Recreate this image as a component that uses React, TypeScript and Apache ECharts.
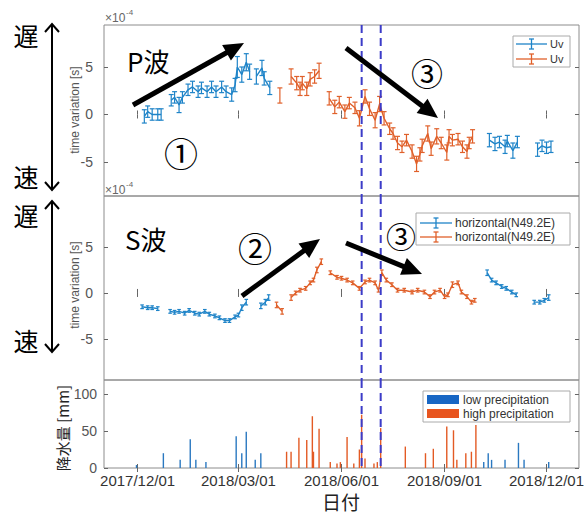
import React, { useEffect, useRef } from "react";
import * as echarts from "echarts";

type Pt = [string, number, number];
type Bar = [string, number];

// ---------------- data ----------------
const X_MIN = "2017-11-01";
const X_MAX = "2018-12-30";
const X_TICKS = ["2017-12-01", "2018-03-01", "2018-06-01", "2018-09-01", "2018-12-01"];
const TV_TICKS = [-5, 0, 5];
const PR_TICKS = [0, 50, 100];
const EVENT_DATES = ["2018-06-19", "2018-07-06"];

// P wave, low-precipitation period (blue): [date, value(x1e-4 s), error]
const P_BLUE: Pt[][] = [
  [["2017-12-07", -0.2, 0.7], ["2017-12-10", 0.3, 0.6], ["2017-12-14", 0.0, 0.6], ["2017-12-19", 0.0, 0.6], ["2017-12-22", 0.0, 0.6]],
  [["2017-12-31", 1.5, 0.6], ["2018-01-03", 1.8, 0.6], ["2018-01-07", 1.0, 0.8], ["2018-01-10", 1.8, 0.6], ["2018-01-15", 2.6, 0.6],
   ["2018-01-19", 2.9, 0.6], ["2018-01-24", 2.4, 0.6], ["2018-01-27", 2.8, 0.6], ["2018-02-01", 2.4, 0.6], ["2018-02-05", 2.9, 0.6],
   ["2018-02-09", 2.4, 0.6], ["2018-02-14", 2.9, 0.6], ["2018-02-18", 2.4, 0.6], ["2018-02-23", 2.1, 0.7], ["2018-02-26", 3.1, 0.7],
   ["2018-02-28", 5.0, 1.1], ["2018-03-04", 4.2, 0.8], ["2018-03-08", 5.5, 0.9], ["2018-03-11", 4.5, 0.8]],
  [["2018-03-17", 4.0, 0.8], ["2018-03-22", 4.9, 0.8], ["2018-03-24", 3.8, 0.7], ["2018-03-29", 2.8, 0.7]],
  [["2018-10-11", -2.7, 0.7], ["2018-10-16", -3.1, 0.7], ["2018-10-20", -2.9, 0.6], ["2018-10-25", -3.4, 0.7], ["2018-10-27", -2.8, 0.6],
   ["2018-11-01", -3.8, 0.8], ["2018-11-05", -2.9, 0.6]],
  [["2018-11-23", -3.7, 0.7], ["2018-11-27", -3.3, 0.6], ["2018-12-01", -3.5, 0.6], ["2018-12-05", -3.4, 0.6]],
];

// P wave, high-precipitation period (orange)
const P_ORANGE: Pt[][] = [
  [["2018-04-07", 2.0, 0.8]],
  [["2018-04-17", 4.0, 0.8], ["2018-04-22", 3.3, 0.7], ["2018-04-25", 2.7, 0.7], ["2018-04-27", 3.3, 0.7], ["2018-05-01", 2.7, 0.7],
   ["2018-05-04", 3.7, 0.7], ["2018-05-08", 4.0, 0.7], ["2018-05-12", 4.6, 0.8]],
  [["2018-05-21", 1.7, 0.7], ["2018-05-26", 0.8, 0.7], ["2018-05-30", 1.3, 0.6], ["2018-06-04", 0.3, 0.7], ["2018-06-08", 1.2, 0.6],
   ["2018-06-13", 0.7, 0.6], ["2018-06-17", -0.4, 0.8], ["2018-06-22", 1.9, 0.7], ["2018-06-26", 0.6, 0.7], ["2018-07-01", -0.6, 0.8],
   ["2018-07-05", 1.1, 0.8], ["2018-07-09", -0.4, 0.7], ["2018-07-14", -1.5, 0.6], ["2018-07-17", -2.0, 0.6], ["2018-07-21", -3.0, 0.7],
   ["2018-07-25", -3.4, 0.6], ["2018-07-29", -2.7, 0.6], ["2018-08-03", -3.9, 0.7], ["2018-08-07", -5.2, 0.8], ["2018-08-10", -4.2, 0.7],
   ["2018-08-12", -3.3, 0.7], ["2018-08-17", -2.0, 0.8], ["2018-08-20", -3.6, 0.7], ["2018-08-25", -2.3, 0.8], ["2018-08-29", -3.0, 0.6],
   ["2018-09-03", -4.0, 0.8], ["2018-09-05", -2.3, 0.7], ["2018-09-08", -2.7, 0.6], ["2018-09-13", -2.6, 0.6], ["2018-09-17", -3.4, 0.6],
   ["2018-09-21", -3.9, 0.7], ["2018-09-23", -3.0, 0.6], ["2018-09-26", -2.3, 0.7]],
];

// S wave, horizontal (N49.2E), low-precipitation period (blue)
const S_BLUE: Pt[][] = [
  [["2017-12-05", -1.5, 0.2], ["2017-12-10", -1.6, 0.2], ["2017-12-14", -1.6, 0.2], ["2017-12-19", -1.7, 0.2]],
  [["2017-12-30", -2.0, 0.2], ["2018-01-03", -2.1, 0.2], ["2018-01-07", -2.0, 0.2], ["2018-01-12", -2.2, 0.2], ["2018-01-16", -1.9, 0.2],
   ["2018-01-21", -2.2, 0.2], ["2018-01-25", -2.3, 0.2], ["2018-01-30", -2.0, 0.2], ["2018-02-03", -2.3, 0.2], ["2018-02-08", -2.5, 0.2],
   ["2018-02-12", -2.7, 0.2], ["2018-02-17", -3.0, 0.2], ["2018-02-21", -3.0, 0.2], ["2018-02-26", -2.6, 0.2], ["2018-03-01", -2.4, 0.2],
   ["2018-03-04", -1.6, 0.3], ["2018-03-08", -1.0, 0.3]],
  [["2018-03-21", -1.4, 0.3], ["2018-03-25", -1.0, 0.3], ["2018-03-28", -0.5, 0.3]],
  [["2018-10-09", 2.2, 0.3], ["2018-10-13", 1.4, 0.2], ["2018-10-17", 1.1, 0.2], ["2018-10-22", 0.7, 0.2], ["2018-10-26", 0.5, 0.2],
   ["2018-10-31", 0.1, 0.2], ["2018-11-04", -0.2, 0.2]],
  [["2018-11-20", -1.0, 0.2], ["2018-11-25", -1.0, 0.2], ["2018-11-29", -0.8, 0.2], ["2018-12-03", -0.5, 0.3]],
];

// S wave, high-precipitation period (orange)
const S_ORANGE: Pt[][] = [
  [["2018-04-04", -1.3, 0.3], ["2018-04-09", -2.0, 0.3]],
  [["2018-04-17", -0.5, 0.3], ["2018-04-21", 0.0, 0.2], ["2018-04-25", 0.3, 0.2], ["2018-04-30", 0.5, 0.2], ["2018-05-04", 1.1, 0.2],
   ["2018-05-07", 1.4, 0.2], ["2018-05-10", 2.5, 0.3], ["2018-05-14", 3.4, 0.3]],
  [["2018-05-22", 2.2, 0.2], ["2018-05-28", 1.7, 0.2], ["2018-06-01", 1.6, 0.2], ["2018-06-06", 1.4, 0.2], ["2018-06-11", 1.1, 0.2],
   ["2018-06-17", 0.5, 0.2], ["2018-06-22", 1.2, 0.2], ["2018-06-26", 1.4, 0.2], ["2018-07-01", 1.1, 0.2], ["2018-07-04", 0.3, 0.2],
   ["2018-07-07", 2.2, 0.3], ["2018-07-11", 1.4, 0.2], ["2018-07-16", 0.9, 0.2], ["2018-07-21", 0.3, 0.2], ["2018-07-27", 0.3, 0.2],
   ["2018-08-03", 0.1, 0.2], ["2018-08-08", 0.3, 0.2], ["2018-08-14", 0.1, 0.2], ["2018-08-19", -0.4, 0.2], ["2018-08-23", 0.1, 0.2],
   ["2018-08-28", 0.3, 0.2], ["2018-09-01", -0.4, 0.2], ["2018-09-04", -0.2, 0.2], ["2018-09-08", 0.9, 0.3], ["2018-09-13", 1.1, 0.2],
   ["2018-09-16", 0.1, 0.2], ["2018-09-21", -0.4, 0.2], ["2018-09-25", -1.0, 0.2], ["2018-09-28", -0.8, 0.2]],
];

// Daily precipitation [mm]
const LOW_PRECIP: Bar[] = [
  ["2017-11-30", 4], ["2017-12-24", 20], ["2018-01-08", 11], ["2018-01-17", 39], ["2018-01-22", 11], ["2018-01-31", 8],
  ["2018-02-27", 43], ["2018-03-04", 20], ["2018-03-08", 49], ["2018-03-16", 11], ["2018-03-21", 20],
  ["2018-10-06", 8], ["2018-10-10", 20], ["2018-10-13", 11], ["2018-10-25", 11], ["2018-11-06", 34], ["2018-11-11", 11], ["2018-12-03", 8],
];
const HIGH_PRECIP: Bar[] = [
  ["2018-04-13", 22], ["2018-04-17", 22], ["2018-04-24", 41], ["2018-05-01", 38], ["2018-05-06", 70], ["2018-05-07", 22],
  ["2018-05-12", 53], ["2018-05-22", 8], ["2018-05-28", 6], ["2018-05-31", 8], ["2018-06-06", 42], ["2018-06-12", 6],
  ["2018-06-17", 25], ["2018-06-19", 72], ["2018-06-22", 13], ["2018-06-30", 6], ["2018-07-03", 8], ["2018-07-06", 54],
  ["2018-07-28", 29], ["2018-08-15", 20], ["2018-08-22", 26], ["2018-09-03", 56], ["2018-09-09", 51], ["2018-09-12", 11],
  ["2018-09-20", 20], ["2018-09-25", 22], ["2018-09-29", 58],
];

// ---------------- styling ----------------
const SANS = '"Liberation Sans", Arial, sans-serif';
const CJK = '"Noto Sans CJK JP", "Noto Sans CJK SC", sans-serif';
const BLUE = "#1f84c8";
const ORANGE = "#e0602a";
const BAR_BLUE = "#2a78c0";
const BAR_ORANGE = "#e35a24";
const EVENT_COLOR = "#3c3cc8";

const parse = (s: string) => Date.parse(s + "T00:00:00Z");
const pad = (n: number) => (n < 10 ? "0" + n : "" + n);
const fmtDate = (v: number) => {
  const d = new Date(v);
  return `${d.getUTCFullYear()}/${pad(d.getUTCMonth() + 1)}/${pad(d.getUTCDate())}`;
};

const GRIDS = [
  { left: 104, top: 25, width: 475, height: 171 },
  { left: 104, top: 196, width: 475, height: 184 },
  { left: 104, top: 380, width: 475, height: 88 },
];
const Y_RANGES = [
  { min: -8.58, max: 9.42, ticks: TV_TICKS },
  { min: -9.46, max: 10.54, ticks: TV_TICKS },
  { min: 0, max: 119, ticks: PR_TICKS },
];

function thickArrow(x1: number, y1: number, x2: number, y2: number) {
  const dx = x2 - x1, dy = y2 - y1, L = Math.hypot(dx, dy);
  const ux = dx / L, uy = dy / L;
  const hl = 20, hw = 9;
  const bx = x2 - ux * hl, by = y2 - uy * hl;
  return [
    { type: "line", z: 50, shape: { x1, y1, x2: bx + ux * 3, y2: by + uy * 3 }, style: { stroke: "#000", lineWidth: 5 } },
    { type: "polygon", z: 50, shape: { points: [[x2, y2], [bx - uy * hw, by + ux * hw], [bx + uy * hw, by - ux * hw]] }, style: { fill: "#000" } },
  ];
}

function doubleArrow(x: number, y1: number, y2: number) {
  const s = { stroke: "#000", lineWidth: 2, fill: null as any };
  return [
    { type: "line", shape: { x1: x, y1: y1 + 1, x2: x, y2: y2 - 1 }, style: s },
    { type: "polyline", shape: { points: [[x - 7, y1 + 8], [x, y1], [x + 7, y1 + 8]] }, style: s },
    { type: "polyline", shape: { points: [[x - 7, y2 - 8], [x, y2], [x + 7, y2 - 8]] }, style: s },
  ];
}

function ebIcon(x1: number, x2: number, y: number, color: string) {
  const xm = (x1 + x2) / 2;
  const s = { stroke: color, lineWidth: 1.3 };
  return [
    { type: "line", shape: { x1, y1: y, x2, y2: y }, style: s },
    { type: "line", shape: { x1: xm, y1: y - 5, x2: xm, y2: y + 5 }, style: s },
    { type: "line", shape: { x1: xm - 2.5, y1: y - 5, x2: xm + 2.5, y2: y - 5 }, style: s },
    { type: "line", shape: { x1: xm - 2.5, y1: y + 5, x2: xm + 2.5, y2: y + 5 }, style: s },
  ];
}

function txt(x: number, y: number, text: string, fontSize: number, opts: any = {}) {
  return {
    type: "text",
    x,
    y,
    z: 60,
    rotation: opts.rotation || 0,
    style: {
      text,
      fontSize,
      fontFamily: opts.font || SANS,
      fill: opts.color || "#000",
      fontWeight: opts.weight || "normal",
      textAlign: opts.align || "center",
      textVerticalAlign: "middle",
    },
  };
}

function buildOption() {
  const xMin = parse(X_MIN), xMax = parse(X_MAX);
  const xt = X_TICKS.map(parse);

  const xAxis: any[] = [];
  const yAxis: any[] = [];
  GRIDS.forEach((_, gi) => {
    ["bottom", "top"].forEach((pos) => {
      xAxis.push({
        type: "value",
        gridIndex: gi,
        position: pos,
        min: xMin,
        max: xMax,
        axisLine: { show: false },
        splitLine: { show: false },
        axisTick: { show: true, inside: true, length: 4, customValues: xt, lineStyle: { color: "#666" } },
        axisLabel: {
          show: gi === 2 && pos === "bottom",
          customValues: xt,
          formatter: (v: number) => fmtDate(v),
          color: "#333",
          fontSize: 15,
          fontFamily: SANS,
          margin: 5,
        },
      });
    });
    const yr = Y_RANGES[gi];
    ["left", "right"].forEach((pos) => {
      yAxis.push({
        type: "value",
        gridIndex: gi,
        position: pos,
        min: yr.min,
        max: yr.max,
        axisLine: { show: false },
        splitLine: { show: false },
        axisTick: { show: true, inside: true, length: 4, customValues: yr.ticks, lineStyle: { color: "#666" } },
        axisLabel: {
          show: pos === "left",
          customValues: yr.ticks,
          color: "#555",
          fontSize: 14,
          fontFamily: SANS,
          margin: gi === 2 ? 7 : 11,
        },
      });
    });
  });

  const series: any[] = [];
  const addSegments = (segs: Pt[][], gi: number, color: string, lw: number, cap: number) => {
    segs.forEach((seg) => {
      series.push({
        type: "line",
        xAxisIndex: gi * 2,
        yAxisIndex: gi * 2,
        data: seg.map((p) => [parse(p[0]), p[1]]),
        symbol: "none",
        lineStyle: { color, width: lw },
        silent: true,
        z: 3,
      });
      series.push({
        type: "custom",
        xAxisIndex: gi * 2,
        yAxisIndex: gi * 2,
        data: seg.map((p) => [parse(p[0]), p[1], p[2]]),
        encode: { x: 0, y: 1 },
        silent: true,
        z: 4,
        renderItem: (params: any, api: any) => {
          const x = api.value(0), v = api.value(1), e = api.value(2);
          const a = api.coord([x, v + e]);
          const b = api.coord([x, v - e]);
          const st = { stroke: color, lineWidth: 1.2 };
          return {
            type: "group",
            children: [
              { type: "line", shape: { x1: a[0], y1: a[1], x2: b[0], y2: b[1] }, style: st },
              { type: "line", shape: { x1: a[0] - cap, y1: a[1], x2: a[0] + cap, y2: a[1] }, style: st },
              { type: "line", shape: { x1: b[0] - cap, y1: b[1], x2: b[0] + cap, y2: b[1] }, style: st },
            ],
          };
        },
      });
    });
  };
  addSegments(P_BLUE, 0, BLUE, 1.4, 2.5);
  addSegments(P_ORANGE, 0, ORANGE, 1.4, 2.5);
  addSegments(S_BLUE, 1, BLUE, 1.4, 1.8);
  addSegments(S_ORANGE, 1, ORANGE, 1.4, 1.8);

  series.push({
    type: "bar",
    name: "low precipitation",
    xAxisIndex: 4,
    yAxisIndex: 4,
    data: LOW_PRECIP.map((d) => [parse(d[0]), d[1]]),
    barWidth: 1.4,
    barGap: "-100%",
    itemStyle: { color: BAR_BLUE },
    silent: true,
  });
  series.push({
    type: "bar",
    name: "high precipitation",
    xAxisIndex: 4,
    yAxisIndex: 4,
    data: HIGH_PRECIP.map((d) => [parse(d[0]), d[1]]),
    barWidth: 1.4,
    barGap: "-100%",
    itemStyle: { color: BAR_ORANGE },
    silent: true,
  });

  GRIDS.forEach((_, gi) => {
    series.push({
      type: "custom",
      xAxisIndex: gi * 2,
      yAxisIndex: gi * 2,
      data: EVENT_DATES.map((d) => [parse(d), 0]),
      encode: { x: 0, y: 1 },
      silent: true,
      z: 20,
      renderItem: (params: any, api: any) => {
        const x = api.coord([api.value(0), 0])[0];
        const cs = params.coordSys;
        return {
          type: "line",
          shape: { x1: x, y1: cs.y, x2: x, y2: cs.y + cs.height },
          style: { stroke: EVENT_COLOR, lineWidth: 2, lineDash: [8, 5] },
        };
      },
    });
  });

  const graphic: any[] = [
    // left-side slow/fast annotations
    txt(26, 35, "遅", 25, { font: CJK }),
    txt(26, 176, "速", 25, { font: CJK }),
    ...doubleArrow(52, 24, 190),
    txt(26, 215, "遅", 25, { font: CJK }),
    txt(26, 340, "速", 25, { font: CJK }),
    ...doubleArrow(52, 201, 352),
    // y-axis titles
    txt(75, 110, "time variation [s]", 12, { rotation: Math.PI / 2, color: "#555" }),
    txt(75, 285, "time variation [s]", 12, { rotation: Math.PI / 2, color: "#555" }),
    txt(62, 428, "降水量 [mm]", 15, { rotation: Math.PI / 2, color: "#222", font: CJK }),
    txt(341, 501, "日付", 19, { font: CJK, color: "#222" }),
    // exponent labels
    txt(105, 18, "×10", 12, { align: "left", color: "#666" }),
    txt(126, 12, "-4", 8, { align: "left", color: "#666" }),
    txt(105, 190, "×10", 12, { align: "left", color: "#666" }),
    txt(126, 184, "-4", 8, { align: "left", color: "#666" }),
    // panel annotations
    txt(127, 60, "P波", 26, { font: CJK, align: "left" }),
    txt(125, 238, "S波", 26, { font: CJK, align: "left" }),
    txt(181, 152, "①", 34, { font: CJK }),
    txt(427, 72, "③", 32, { font: CJK }),
    txt(255, 247, "②", 34, { font: CJK }),
    txt(401, 235, "③", 30, { font: CJK }),
    ...thickArrow(133, 105, 244, 43),
    ...thickArrow(346, 48, 438, 118),
    ...thickArrow(242, 296, 320, 239),
    ...thickArrow(346, 243, 422, 274),
    // legend panel 1
    { type: "rect", shape: { x: 513, y: 36, width: 57, height: 31 }, style: { fill: "#fff", stroke: "#aaa", lineWidth: 1 }, z: 40 },
    ...ebIcon(516, 547, 44, BLUE).map((e) => ({ ...e, z: 41 })),
    ...ebIcon(516, 547, 59, ORANGE).map((e) => ({ ...e, z: 41 })),
    { ...txt(550, 44, "Uv", 11, { align: "left", color: "#333" }), z: 42 },
    { ...txt(550, 59, "Uv", 11, { align: "left", color: "#333" }), z: 42 },
    // legend panel 2
    { type: "rect", shape: { x: 416, y: 213, width: 154, height: 32 }, style: { fill: "#fff", stroke: "#aaa", lineWidth: 1 }, z: 40 },
    ...ebIcon(420, 452, 223, BLUE).map((e) => ({ ...e, z: 41 })),
    ...ebIcon(420, 452, 237, ORANGE).map((e) => ({ ...e, z: 41 })),
    { ...txt(455, 223, "horizontal(N49.2E)", 12, { align: "left", color: "#333" }), z: 42 },
    { ...txt(455, 237, "horizontal(N49.2E)", 12, { align: "left", color: "#333" }), z: 42 },
    // legend panel 3
    { type: "rect", shape: { x: 423, y: 391, width: 147, height: 31 }, style: { fill: "#fff", stroke: "#aaa", lineWidth: 1 }, z: 40 },
    { type: "rect", shape: { x: 427, y: 395, width: 32, height: 9 }, style: { fill: "#1766c4" }, z: 41 },
    { type: "rect", shape: { x: 427, y: 409, width: 32, height: 9 }, style: { fill: "#e8551f" }, z: 41 },
    { ...txt(463, 400, "low precipitation", 12, { align: "left", color: "#333" }), z: 42 },
    { ...txt(463, 414, "high precipitation", 12, { align: "left", color: "#333" }), z: 42 },
  ];

  return {
    animation: false,
    backgroundColor: "#fff",
    grid: GRIDS.map((g) => ({ ...g, show: true, borderColor: "#8c8c8c", borderWidth: 1, backgroundColor: "transparent" })),
    xAxis,
    yAxis,
    series,
    graphic,
  };
}

export default function App() {
  const ref = useRef<HTMLDivElement>(null);
  useEffect(() => {
    if (!ref.current) return;
    const chart = echarts.init(ref.current, null, { renderer: "svg" });
    chart.setOption(buildOption() as any);
    return () => chart.dispose();
  }, []);
  return (
    <div
      ref={ref}
      style={{ position: "absolute", left: 0, top: 0, width: 587, height: 515, background: "#fff" }}
    />
  );
}
